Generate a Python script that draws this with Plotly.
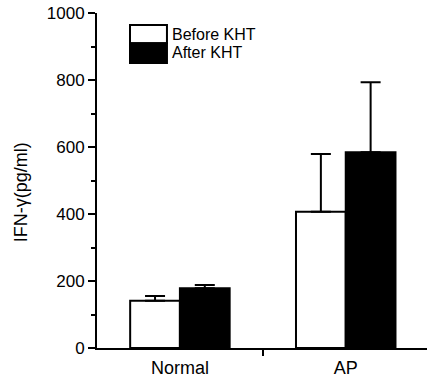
import plotly.graph_objects as go

categories = ["Normal", "AP"]
series_names = ["Before KHT", "After KHT"]
before_vals = [141, 407]
before_err = [14, 172]
after_vals = [178, 584]
after_err = [10, 209]
y_ticks = [0, 200, 400, 600, 800, 1000]

FONT = "Liberation Sans, Arial, sans-serif"
xs = list(range(len(categories)))

fig = go.Figure()
fig.add_trace(go.Bar(
    x=xs, y=before_vals, name=series_names[0], offsetgroup="a",
    marker=dict(color="white", line=dict(color="black", width=2)),
    error_y=dict(type="data", array=before_err, arrayminus=[0]*len(before_err),
                 symmetric=False, color="black", thickness=2, width=10),
    showlegend=False,
))
fig.add_trace(go.Bar(
    x=xs, y=after_vals, name=series_names[1], offsetgroup="b",
    marker=dict(color="black", line=dict(color="black", width=2)),
    error_y=dict(type="data", array=after_err, arrayminus=[0]*len(after_err),
                 symmetric=False, color="black", thickness=2, width=10),
    showlegend=False,
))

# legend drawn manually
fig.add_shape(type="rect", xref="paper", yref="paper", x0=0.10, x1=0.212,
              y0=0.910, y1=0.964, line=dict(color="black", width=2), fillcolor="white")
fig.add_shape(type="rect", xref="paper", yref="paper", x0=0.10, x1=0.212,
              y0=0.851, y1=0.910, line=dict(color="black", width=2), fillcolor="black")
fig.add_annotation(xref="paper", yref="paper", x=0.222, y=0.937, text=series_names[0],
                   showarrow=False, xanchor="left", yanchor="middle",
                   font=dict(family=FONT, size=16, color="black"))
fig.add_annotation(xref="paper", yref="paper", x=0.222, y=0.881, text=series_names[1],
                   showarrow=False, xanchor="left", yanchor="middle",
                   font=dict(family=FONT, size=16, color="black"))

fig.add_annotation(xref="paper", yref="paper", x=-0.23, y=0.465, text="IFN-γ(pg/ml)",
                   textangle=-90, showarrow=False, xanchor="center", yanchor="middle",
                   font=dict(family=FONT, size=18, color="black"))

fig.update_layout(
    width=427, height=379,
    margin=dict(l=97, r=0, t=13, b=31),
    paper_bgcolor="white", plot_bgcolor="white",
    barmode="group", bargap=0.4, bargroupgap=0,
    font=dict(family=FONT, size=18, color="black"),
    xaxis=dict(range=[-0.5, 1.49], tickmode="array", tickvals=xs, ticktext=categories,
               ticks="", ticklen=0, ticklabelstandoff=2, automargin=False,
               showline=True, linecolor="black", linewidth=2,
               showgrid=False, zeroline=False,
               minor=dict(tickmode="array", tickvals=[0.5], ticks="outside",
                          ticklen=6, tickwidth=2, tickcolor="black"),
               tickfont=dict(family=FONT, size=18)),
    yaxis=dict(range=[0, 1000], tickvals=y_ticks, ticks="outside", ticklen=7,
               tickwidth=2, tickcolor="black", showline=True, linecolor="black",
               linewidth=2, showgrid=False, zeroline=False, automargin=False,
               minor=dict(dtick=100, ticks="outside", ticklen=4, tickwidth=1.5,
                          tickcolor="black", showgrid=False),
               tickfont=dict(family=FONT, size=17)),
)

fig.write_html("out.html", config={"displayModeBar": False},
               post_script="document.body.style.margin='0';")
